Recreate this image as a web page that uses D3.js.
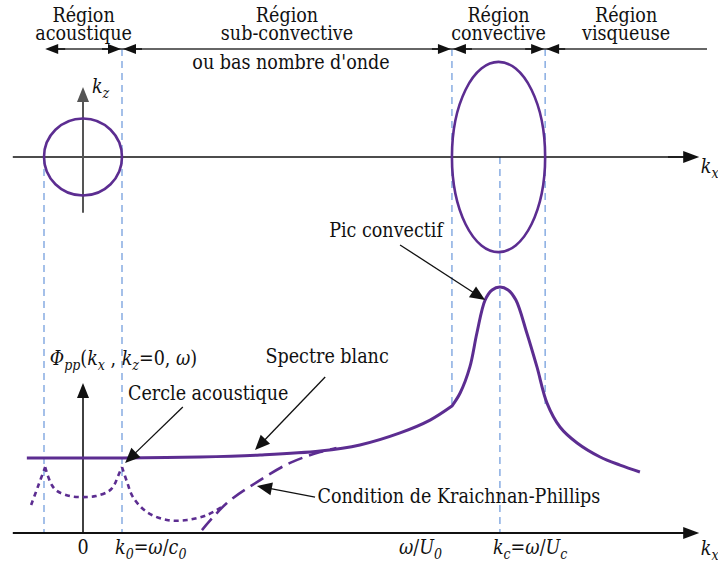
<!DOCTYPE html>
<html>
<head>
<meta charset="utf-8">
<script src="https://cdn.jsdelivr.net/npm/d3@7"></script>
<style>
body { margin: 0; background: #fff; }
text { font-family: "DejaVu Serif Condensed", "DejaVu Serif", serif; font-size: 19.5px; fill: #111; }
</style>
</head>
<body>
<div id="visual"></div>
<script>

///// DATA /////
// kx is in units of k0 = omega/c0, level is normalised by the convective peak

var spectrumKx    = [-1.44, 0, 1, 3, 4.54, 6.08, 7.1, 8.13, 8.9, 9.46, 9.67, 9.92, 10.1, 10.31, 10.49, 10.69, 10.9, 11.1, 11.38, 11.64, 11.9, 12.23, 12.67, 13.26, 13.77, 14.28];
var spectrumLevel = [0.305, 0.305, 0.305, 0.309, 0.317, 0.333, 0.358, 0.407, 0.459, 0.516, 0.569, 0.675, 0.813, 0.947, 0.988, 1.0, 0.988, 0.947, 0.813, 0.675, 0.527, 0.431, 0.366, 0.309, 0.276, 0.248];

// acoustic part (dotted), cusps at -k0 and +k0
var acousticKx    = [-1.33, -1.15, -0.97, -0.9, -0.8, -0.67, -0.33, 0, 0.33, 0.67, 0.8, 0.9, 1.0, 1.13, 1.28, 1.64, 2.15, 2.67, 3.18, 3.56];
var acousticLevel = [0.114, 0.191, 0.268, 0.232, 0.195, 0.171, 0.150, 0.146, 0.150, 0.171, 0.195, 0.232, 0.268, 0.207, 0.146, 0.085, 0.053, 0.053, 0.073, 0.106];

// Kraichnan-Phillips condition (long dashes)
var kpKx    = [3.05, 3.69, 4.46, 5.31, 6.08, 6.5];
var kpLevel = [0.012, 0.122, 0.207, 0.285, 0.329, 0.345];

// regions along kx
var regionBounds = [-0.97, 1, 9.46, 11.85, 16];
var regionNames  = [["Région", "acoustique"], ["Région", "sub-convective"], ["Région", "convective"], ["Région", "visqueuse"]];

// wavenumber circle / ellipse in the (kx, kz) plane
var kcKx = 10.69;
var ellipseKx = [9.46, 11.85];
var ellipseKz = 2.47;

// ticks on the bottom kx axis: [text, style] with style i = italic, s = subscript
var tickKx = [0, 1, 9.46, 10.69];
var tickLabels = [
	[["0", ""]],
	[["k", "i"], ["0", "is"], ["=", ""], ["ω", "i"], ["/", ""], ["c", "i"], ["0", "is"]],
	[["ω", "i"], ["/", ""], ["U", "i"], ["0", "is"]],
	[["k", "i"], ["c", "is"], ["=", ""], ["ω", "i"], ["/", ""], ["U", "i"], ["c", "is"]]
];
var tickAnchor = ["middle", "start", "end", "start"];
var tickShift  = [0, -7, -10, -7];

///// SCALES /////
var W = 718, H = 563;

var x = d3.scaleLinear().domain([-1.8, 15.8]).range([12.8, 699.2]);
var yTop = d3.scaleLinear().domain([-1, 1]).range([195.5, 118.5]);
var yBot = d3.scaleLinear().domain([0, 1]).range([533, 287]);

var purple = "#5c2d91",
	blue = "#7fa6e0";

var svg = d3.select("#visual").append("svg")
	.attr("width", W).attr("height", H);

///// HELPERS /////
function arrow(g, x1, y1, x2, y2, o) {
	o = Object.assign({len: 15, hw: 6, width: 1.5, color: "#111"}, o || {});
	var dx = x2 - x1, dy = y2 - y1, L = Math.sqrt(dx * dx + dy * dy);
	var ux = dx / L, uy = dy / L;
	var bx = x2 - ux * o.len, by = y2 - uy * o.len;
	g.append("line")
		.attr("x1", x1).attr("y1", y1).attr("x2", bx + ux).attr("y2", by + uy)
		.attr("stroke", o.color).attr("stroke-width", o.width);
	g.append("path")
		.attr("d", "M" + x2 + "," + y2 +
			"L" + (bx - uy * o.hw) + "," + (by + ux * o.hw) +
			"L" + (bx + uy * o.hw) + "," + (by - ux * o.hw) + "Z")
		.attr("fill", o.color);
}

function richText(sel, parts) {
	var shifted = false;
	parts.forEach(function(p) {
		var ts = sel.append("tspan").text(p[0]);
		if (p[1].indexOf("i") >= 0) ts.style("font-style", "italic");
		if (p[1].indexOf("s") >= 0) {
			ts.style("font-size", "14px");
			if (!shifted) { ts.attr("dy", 5); shifted = true; }
		} else if (shifted) {
			ts.attr("dy", -5); shifted = false;
		}
	});
	return sel;
}

///// BLUE GUIDE LINES /////
var guides = svg.append("g")
	.attr("stroke", blue).attr("stroke-width", 1.4).attr("stroke-dasharray", "7,5");

guides.append("line").attr("x1", x(-1)).attr("x2", x(-1)).attr("y1", yTop(0)).attr("y2", yBot(0));
guides.append("line").attr("x1", x(1)).attr("x2", x(1)).attr("y1", 49).attr("y2", yBot(0));
guides.append("line").attr("x1", x(ellipseKx[0])).attr("x2", x(ellipseKx[0])).attr("y1", 49).attr("y2", yBot(0.516));
guides.append("line").attr("x1", x(ellipseKx[1])).attr("x2", x(ellipseKx[1])).attr("y1", 49).attr("y2", yBot(0.52));
guides.append("line").attr("x1", x(kcKx)).attr("x2", x(kcKx)).attr("y1", yTop(0)).attr("y2", yBot(0));

///// REGIONS /////
var reg = svg.append("g");
reg.append("line")
	.attr("x1", x(regionBounds[0]) + 8).attr("x2", x(regionBounds[4]))
	.attr("y1", 49).attr("y2", 49)
	.attr("stroke", "#333").attr("stroke-width", 1.5);

arrow(reg, x(regionBounds[0]) + 20, 49, x(regionBounds[0]), 49, {len: 13, hw: 5});
regionBounds.slice(1, 4).forEach(function(b) {
	arrow(reg, x(b) - 20, 49, x(b) - 1, 49, {len: 13, hw: 5});
	arrow(reg, x(b) + 20, 49, x(b) + 1, 49, {len: 13, hw: 5});
});

// two-line region names as one text block
regionNames.forEach(function(n, i) {
	var cx = x((regionBounds[i] + regionBounds[i + 1]) / 2);
	var t = reg.append("text").attr("x", cx).attr("y", 22).attr("text-anchor", "middle");
	t.append("tspan").attr("x", cx).text(n[0]);
	t.append("tspan").attr("x", cx).attr("dy", 18).text(n[1]);
});
reg.append("text")
	.attr("x", x((regionBounds[1] + regionBounds[2]) / 2) + 4).attr("y", 69)
	.attr("text-anchor", "middle").text("ou bas nombre d'onde");

///// TOP PANEL (kx, kz) /////
var topG = svg.append("g");
topG.append("line")
	.attr("x1", x(-1.8)).attr("x2", x(15.4)).attr("y1", yTop(0)).attr("y2", yTop(0))
	.attr("stroke", "#111").attr("stroke-width", 1.5);
arrow(topG, x(15), yTop(0), x(15.8), yTop(0), {len: 16, hw: 6});
arrow(topG, x(0), yTop(-1.45), x(0), yTop(1.82), {len: 15, hw: 6, width: 2, color: "#555"});

topG.append("ellipse")
	.attr("cx", x(0)).attr("cy", yTop(0))
	.attr("rx", x(1) - x(0)).attr("ry", yTop(0) - yTop(1))
	.attr("fill", "none").attr("stroke", purple).attr("stroke-width", 2.6);

topG.append("ellipse")
	.attr("cx", x((ellipseKx[0] + ellipseKx[1]) / 2)).attr("cy", yTop(0))
	.attr("rx", (x(ellipseKx[1]) - x(ellipseKx[0])) / 2).attr("ry", yTop(0) - yTop(ellipseKz))
	.attr("fill", "none").attr("stroke", purple).attr("stroke-width", 2.6);

richText(topG.append("text").attr("x", x(0.23)).attr("y", 93), [["k", "i"], ["z", "is"]]);
richText(topG.append("text").attr("x", x(15.84)).attr("y", 173), [["k", "i"], ["x", "is"]]);

///// BOTTOM PANEL: SPECTRUM /////
var bot = svg.append("g");
bot.append("line")
	.attr("x1", x(-1.8)).attr("x2", x(15.4)).attr("y1", yBot(0)).attr("y2", yBot(0))
	.attr("stroke", "#111").attr("stroke-width", 2);
arrow(bot, x(15), yBot(0), x(15.8), yBot(0), {len: 16, hw: 6, width: 2});
arrow(bot, x(0), yBot(0), x(0), yBot(0.61), {len: 15, hw: 6, width: 1.6});

var line = d3.line()
	.x(function(d) { return x(d[0]); })
	.y(function(d) { return yBot(d[1]); })
	.curve(d3.curveCatmullRom.alpha(0.5));

// acoustic dotted curve, three pieces so the cusps stay sharp
var ac = d3.zip(acousticKx, acousticLevel);
var acPath = [ac.slice(0, 3), ac.slice(2, 13), ac.slice(12)].map(function(s) { return line(s); }).join("");
bot.append("path").attr("d", acPath)
	.attr("fill", "none").attr("stroke", purple).attr("stroke-width", 2.6)
	.attr("stroke-dasharray", "5,4");

bot.append("path").attr("d", line(d3.zip(kpKx, kpLevel)))
	.attr("fill", "none").attr("stroke", purple).attr("stroke-width", 2.6)
	.attr("stroke-dasharray", "15,7");

var sp = d3.zip(spectrumKx, spectrumLevel);
bot.append("path").attr("d", line(sp.slice(0, 10)) + line(sp.slice(9)).replace(/^M/, "L"))
	.attr("fill", "none").attr("stroke", purple).attr("stroke-width", 3);

// ticks
tickKx.forEach(function(k, i) {
	richText(bot.append("text")
		.attr("x", x(k) + tickShift[i]).attr("y", 554)
		.attr("text-anchor", tickAnchor[i]), tickLabels[i]);
});
richText(bot.append("text").attr("x", x(15.84)).attr("y", 555), [["k", "i"], ["x", "is"]]);

richText(bot.append("text").attr("x", x(-0.85)).attr("y", yBot(0.683)),
	[["Φ", "i"], ["pp", "is"], ["(", ""], ["k", "i"], ["x", "is"], [" , ", ""], ["k", "i"], ["z", "is"], ["=0, ", ""], ["ω", "i"], [")", ""]]);

///// ANNOTATIONS /////
var notes = [
	{text: "Pic convectif", tx: 7.77, ty: 1.203, from: [8.13, 1.171], to: [10.31, 0.947]},
	{text: "Spectre blanc", tx: 6.26, ty: 0.691, from: [6.21, 0.634], to: [4.41, 0.337]},
	{text: "Cercle acoustique", tx: 3.21, ty: 0.541, from: [2.56, 0.512], to: [1.08, 0.285]},
	{text: "Condition de Kraichnan-Phillips", tx: 9.64, ty: 0.122, from: [5.95, 0.146], to: [4.46, 0.191]}
];
notes.forEach(function(n) {
	bot.append("text").attr("x", x(n.tx)).attr("y", yBot(n.ty))
		.attr("text-anchor", "middle").text(n.text);
	arrow(bot, x(n.from[0]), yBot(n.from[1]), x(n.to[0]), yBot(n.to[1]), {len: 15, hw: 6.5, width: 1.3});
});

</script>
</body>
</html>
